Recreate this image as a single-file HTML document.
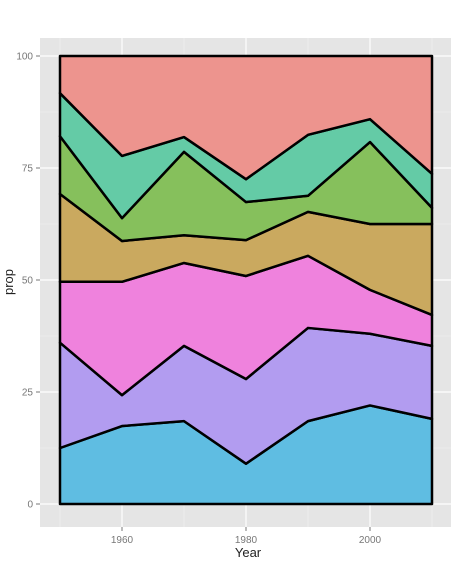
<!DOCTYPE html>
<html><head><meta charset="utf-8"><style>
body{margin:0;background:#fff;}
svg{display:block;font-family:"Liberation Sans",sans-serif;}
</style></head><body>
<svg id="chart" width="462" height="572">
<rect x="40" y="38" width="411" height="489" fill="#e5e5e5"/>
<g id="grid"></g>
<g id="areas"></g>
<g id="lines"></g>
<g id="axes"></g>
<text x="248" y="557" text-anchor="middle" font-size="13" fill="#222">Year</text>
<text x="13" y="282" text-anchor="middle" font-size="13" fill="#222" transform="rotate(-90 13 282)">prop</text>
</svg>
<script>
const years=[1950,1960,1970,1980,1990,2000,2010];
const s1=[12.5,17.4,18.5,9,18.5,22,19];
const s2=[36,24.3,35.3,27.9,39.3,38,35.3];
const s3=[49.6,49.6,53.8,50.9,55.4,47.8,42.2];
const s4=[69.2,58.7,60,58.9,65.2,62.5,62.5];
const s5=[82.1,63.8,78.6,67.4,68.8,80.8,66.1];
const s6=[91.7,77.7,81.9,72.5,82.4,85.9,73.7];
const s7=[100,100,100,100,100,100,100];
const xTicks=[1960,1980,2000];
const yTicks=[0,25,50,75,100];
const colors=["#5fbde2","#b29cf0","#ef82dd","#caa95f","#86c05c","#64cba6","#ed948e"];
const NS="http://www.w3.org/2000/svg";
const X=y=>60+(y-1950)*6.2;
const Y=v=>504-v*4.48;
const bounds=[years.map(()=>0),s1,s2,s3,s4,s5,s6,s7];
function mk(t,a,p){const e=document.createElementNS(NS,t);for(const k in a)e.setAttribute(k,a[k]);p.appendChild(e);return e;}
const grid=document.getElementById('grid');
[1950,1970,1990,2010].forEach(t=>{const l=mk('line',{x1:X(t),x2:X(t),y1:38,y2:527,stroke:'#f2f2f2','stroke-width':0.6},grid);

});
[12.5,37.5,62.5,87.5].forEach(t=>{const l=mk('line',{x1:40,x2:451,y1:Y(t),y2:Y(t),stroke:'#f2f2f2','stroke-width':0.6},grid);

});
xTicks.forEach(t=>{const l=mk('line',{x1:X(t),x2:X(t),y1:38,y2:527,stroke:'#fff','stroke-width':1.2},grid);

});
yTicks.forEach(t=>{const l=mk('line',{x1:40,x2:451,y1:Y(t),y2:Y(t),stroke:'#fff','stroke-width':1.2},grid);

});
const areas=document.getElementById('areas');
for(let i=0;i<7;i++){
 const lo=bounds[i],hi=bounds[i+1];
 let d=years.map((y,j)=>(j?'L':'M')+X(y)+','+Y(hi[j])).join('');
 for(let j=years.length-1;j>=0;j--)d+='L'+X(years[j])+','+Y(lo[j]);
 const p=mk('path',{d:d+'Z',fill:colors[i],stroke:'#000','stroke-width':2.5,'stroke-linejoin':'round'},areas);
 
 
}
const ax=document.getElementById('axes');
xTicks.forEach(t=>{mk('line',{x1:X(t),x2:X(t),y1:527,y2:531,stroke:'#777'},ax);
 const e=mk('text',{x:X(t),y:543,'text-anchor':'middle','font-size':10,fill:'#777'},ax);e.textContent=t;
 
 });
yTicks.forEach(t=>{mk('line',{x1:36,x2:40,y1:Y(t),y2:Y(t),stroke:'#777'},ax);
 const e=mk('text',{x:33,y:Y(t)+3.5,'text-anchor':'end','font-size':10,fill:'#777'},ax);e.textContent=t;
 
 });
</script>
</body></html>
